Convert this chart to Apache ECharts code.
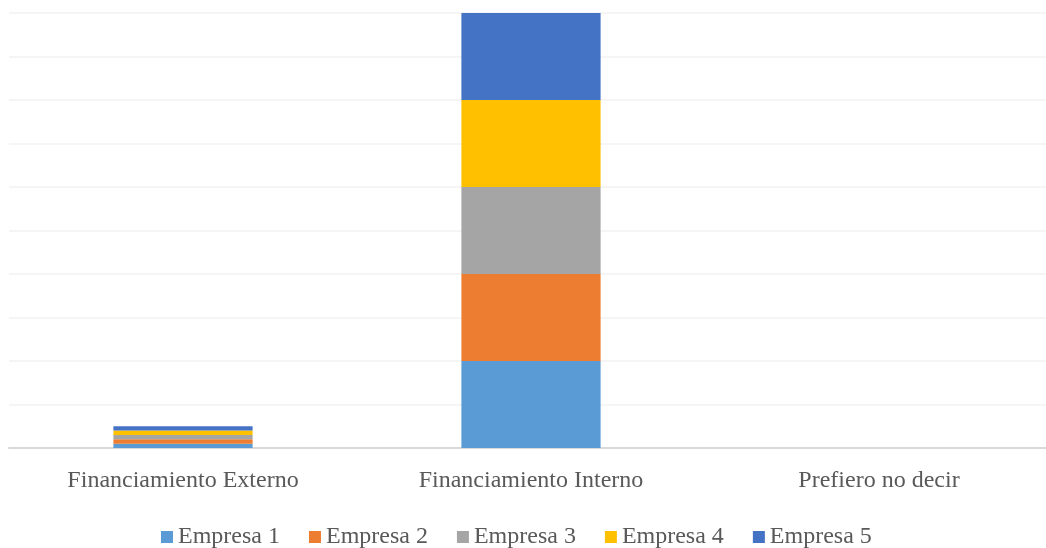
<!DOCTYPE html>
<html>
<head>
<meta charset="utf-8">
<script src="https://cdn.jsdelivr.net/npm/echarts@6/dist/echarts.min.js"></script>
<style>
  html, body { margin: 0; padding: 0; background: #ffffff; }
  #chart { width: 1046px; height: 548px; }
</style>
</head>
<body>
<div id="chart"></div>
<script>
// Funding source categories
const categories = ['Financiamiento Externo', 'Financiamiento Interno', 'Prefiero no decir'];

// Values per company (stacked)
const empresa1 = [1, 20, 0];
const empresa2 = [1, 20, 0];
const empresa3 = [1, 20, 0];
const empresa4 = [1, 20, 0];
const empresa5 = [1, 20, 0];

const seriesNames = ['Empresa 1', 'Empresa 2', 'Empresa 3', 'Empresa 4', 'Empresa 5'];
const seriesData = [empresa1, empresa2, empresa3, empresa4, empresa5];
const colors = ['#5B9BD5', '#ED7D31', '#A5A5A5', '#FFC000', '#4472C4'];

const fontFamily = '"Liberation Serif", "Times New Roman", serif';

const chart = echarts.init(document.getElementById('chart'));
chart.setOption({
  animation: false,
  color: colors,
  grid: { left: 9, width: 1044, top: 13, bottom: 100, containLabel: false, outerBoundsMode: 'none' },
  xAxis: {
    type: 'category',
    data: categories,
    axisLine: { show: true, lineStyle: { color: '#d9d9d9', width: 2 } },
    axisTick: { show: false },
    axisLabel: { color: '#595959', fontFamily: fontFamily, fontSize: 24, margin: 21 }
  },
  yAxis: {
    type: 'value',
    min: 0,
    max: 100,
    interval: 10,
    axisLine: { show: false },
    axisTick: { show: false },
    axisLabel: { show: false },
    splitLine: { show: true, lineStyle: { color: '#f2f2f2', width: 1.5 } }
  },
  legend: {
    top: 520,
    left: 156,
    itemWidth: 12,
    itemHeight: 12,
    itemGap: 29,
    icon: 'rect',
    textStyle: { color: '#595959', fontFamily: fontFamily, fontSize: 24 },
    data: seriesNames
  },
  series: seriesNames.map((name, i) => ({
    name: name,
    type: 'bar',
    stack: 'total',
    barWidth: '40%',
    data: seriesData[i]
  }))
});
</script>
</body>
</html>
